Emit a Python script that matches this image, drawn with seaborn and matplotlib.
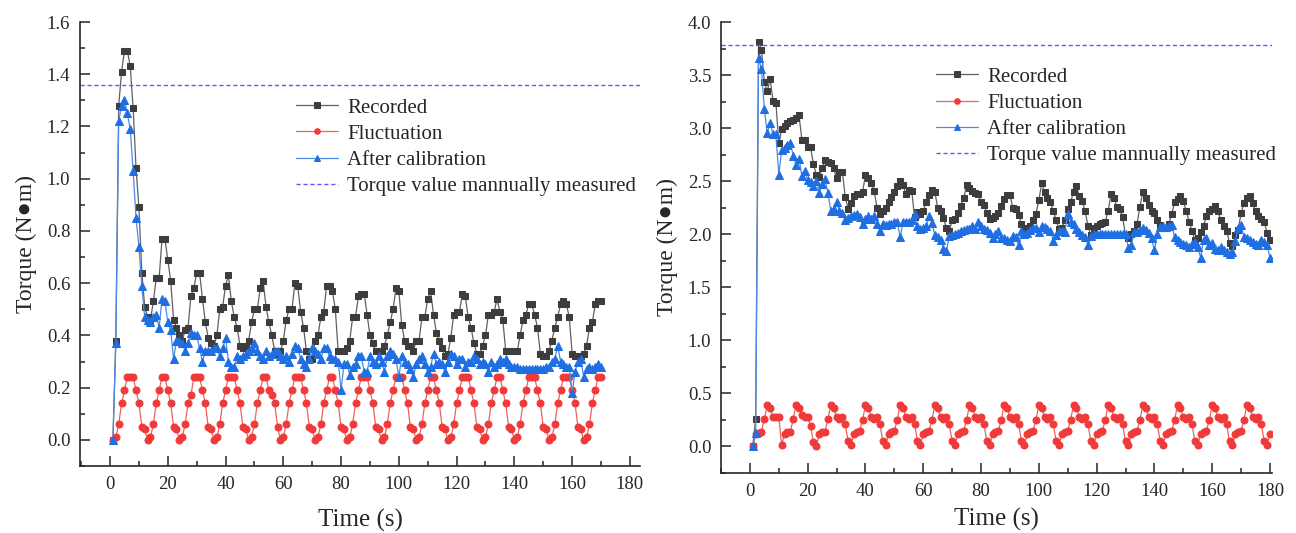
import numpy as np
import matplotlib
matplotlib.use("Agg")
import matplotlib.pyplot as plt
from matplotlib.ticker import MultipleLocator, FormatStrFormatter
import seaborn as sns

# ---- data: left test (1 sample per second) ----
left_time = np.arange(1, 171)
left_recorded = [
    0.00, 0.38, 1.28, 1.41, 1.49, 1.49, 1.43, 1.27, 1.04, 0.89,
    0.64, 0.51, 0.47, 0.46, 0.53, 0.62, 0.62, 0.77, 0.77, 0.69,
    0.61, 0.46, 0.43, 0.40, 0.38, 0.42, 0.43, 0.55, 0.58, 0.64,
    0.64, 0.54, 0.45, 0.39, 0.37, 0.36, 0.40, 0.50, 0.51, 0.59,
    0.63, 0.53, 0.47, 0.43, 0.36, 0.35, 0.36, 0.38, 0.45, 0.50,
    0.50, 0.58, 0.61, 0.51, 0.45, 0.40, 0.34, 0.33, 0.34, 0.38,
    0.46, 0.50, 0.50, 0.60, 0.59, 0.49, 0.43, 0.34, 0.31, 0.31,
    0.38, 0.40, 0.47, 0.49, 0.59, 0.59, 0.57, 0.50, 0.34, 0.34,
    0.34, 0.35, 0.38, 0.47, 0.47, 0.55, 0.56, 0.56, 0.48, 0.40,
    0.37, 0.34, 0.34, 0.34, 0.36, 0.40, 0.45, 0.50, 0.58, 0.57,
    0.44, 0.38, 0.36, 0.36, 0.34, 0.38, 0.38, 0.47, 0.47, 0.54,
    0.57, 0.48, 0.41, 0.38, 0.35, 0.32, 0.33, 0.39, 0.48, 0.49,
    0.49, 0.56, 0.55, 0.47, 0.43, 0.37, 0.33, 0.33, 0.36, 0.40,
    0.48, 0.48, 0.49, 0.54, 0.49, 0.46, 0.34, 0.34, 0.34, 0.34,
    0.34, 0.40, 0.46, 0.48, 0.52, 0.52, 0.48, 0.43, 0.33, 0.32,
    0.32, 0.34, 0.38, 0.43, 0.47, 0.52, 0.53, 0.52, 0.47, 0.33,
    0.32, 0.32, 0.32, 0.33, 0.36, 0.43, 0.45, 0.52, 0.53, 0.53,
]
left_fluct = [
    0.00, 0.01, 0.06, 0.14, 0.19,
    0.24, 0.24, 0.24, 0.19, 0.14, 0.05, 0.04, 0.00, 0.01, 0.06, 0.14, 0.19,
    0.24, 0.24, 0.19, 0.14, 0.05, 0.04, 0.00, 0.01, 0.06, 0.14, 0.17,
    0.24, 0.24, 0.24, 0.19, 0.14, 0.05, 0.04, 0.00, 0.01, 0.06, 0.14, 0.19,
    0.24, 0.24, 0.24, 0.19, 0.14, 0.05, 0.04, 0.00, 0.01, 0.06, 0.14, 0.19,
    0.24, 0.24, 0.19, 0.17, 0.14, 0.05, 0.00, 0.01, 0.06, 0.14, 0.19,
    0.24, 0.24, 0.24, 0.19, 0.14, 0.05, 0.04, 0.00, 0.01, 0.06, 0.14, 0.19,
    0.24, 0.24, 0.19, 0.14, 0.05, 0.04, 0.00, 0.01, 0.06, 0.14, 0.19,
    0.24, 0.24, 0.24, 0.19, 0.14, 0.05, 0.04, 0.00, 0.01, 0.06, 0.14, 0.19,
    0.24, 0.24, 0.24, 0.19, 0.14, 0.05, 0.04, 0.00, 0.01, 0.06, 0.14, 0.19,
    0.24, 0.24, 0.19, 0.14, 0.05, 0.04, 0.00, 0.01, 0.06, 0.14, 0.19,
    0.24, 0.24, 0.24, 0.19, 0.14, 0.05, 0.04, 0.00, 0.01, 0.06, 0.14, 0.19,
    0.24, 0.24, 0.19, 0.14, 0.05, 0.04, 0.00, 0.01, 0.06, 0.14, 0.19,
    0.24, 0.24, 0.24, 0.19, 0.14, 0.05, 0.04, 0.00, 0.01, 0.06, 0.14, 0.19,
    0.24, 0.24, 0.24, 0.19, 0.14, 0.05, 0.04, 0.00, 0.01, 0.06, 0.14, 0.19,
    0.24, 0.24,
]
left_calibrated = [
    0.00, 0.37, 1.22, 1.28, 1.30, 1.25, 1.19, 1.03, 0.85, 0.74,
    0.59, 0.47, 0.46, 0.45, 0.47, 0.48, 0.43, 0.54, 0.53, 0.45,
    0.42, 0.31, 0.38, 0.38, 0.37, 0.34, 0.37, 0.41, 0.40, 0.40,
    0.35, 0.30, 0.34, 0.34, 0.34, 0.35, 0.35, 0.32, 0.35, 0.39,
    0.30, 0.28, 0.28, 0.32, 0.31, 0.32, 0.33, 0.34, 0.35, 0.37,
    0.34, 0.32, 0.31, 0.34, 0.32, 0.33, 0.34, 0.34, 0.32, 0.31,
    0.32, 0.30, 0.33, 0.36, 0.35, 0.31, 0.29, 0.28, 0.31, 0.35,
    0.34, 0.33, 0.31, 0.35, 0.35, 0.32, 0.31, 0.31, 0.30, 0.19,
    0.29, 0.29, 0.25, 0.28, 0.29, 0.32, 0.32, 0.26, 0.26, 0.32,
    0.30, 0.29, 0.32, 0.30, 0.26, 0.32, 0.34, 0.33, 0.31, 0.24,
    0.32, 0.30, 0.29, 0.27, 0.24, 0.29, 0.31, 0.32, 0.29, 0.26,
    0.28, 0.33, 0.29, 0.30, 0.29, 0.26, 0.30, 0.33, 0.32, 0.29,
    0.31, 0.31, 0.28, 0.30, 0.30, 0.32, 0.31, 0.29, 0.30, 0.29,
    0.26, 0.30, 0.28, 0.29, 0.31, 0.30, 0.31, 0.29, 0.28, 0.28,
    0.28, 0.27, 0.27, 0.27, 0.27, 0.27, 0.27, 0.27, 0.27, 0.27,
    0.28, 0.28, 0.30, 0.31, 0.36, 0.30, 0.29, 0.28, 0.28, 0.18,
    0.26, 0.30, 0.31, 0.24, 0.27, 0.28, 0.27, 0.28, 0.29, 0.28,
]
left_manual = 1.36

# ---- data: right test ----
right_time = np.arange(1, 181)
right_recorded = [
    0.00, 0.26, 3.81, 3.74, 3.43, 3.35, 3.46, 3.26, 3.24, 2.86,
    2.99, 3.02, 3.05, 3.07, 3.08, 3.10, 3.12, 2.89, 2.89, 2.82,
    2.82, 2.66, 2.56, 2.54, 2.62, 2.70, 2.68, 2.67, 2.62, 2.53,
    2.59, 2.59, 2.35, 2.24, 2.29, 2.36, 2.38, 2.38, 2.40, 2.56,
    2.53, 2.48, 2.41, 2.25, 2.19, 2.22, 2.25, 2.30, 2.35, 2.40,
    2.45, 2.50, 2.46, 2.38, 2.42, 2.41, 2.16, 2.21, 2.19, 2.22,
    2.30, 2.37, 2.42, 2.40, 2.25, 2.22, 2.15, 2.06, 2.03, 2.13,
    2.14, 2.20, 2.27, 2.34, 2.46, 2.44, 2.41, 2.39, 2.38, 2.30,
    2.28, 2.20, 2.14, 2.15, 2.17, 2.20, 2.27, 2.33, 2.37, 2.37,
    2.25, 2.24, 2.18, 2.10, 2.06, 2.06, 2.08, 2.13, 2.19, 2.32,
    2.48, 2.40, 2.34, 2.30, 2.22, 2.13, 2.05, 2.06, 2.13, 2.24,
    2.30, 2.40, 2.45, 2.36, 2.31, 2.22, 2.08, 1.99, 2.06, 2.08,
    2.10, 2.11, 2.12, 2.22, 2.38, 2.34, 2.26, 2.24, 2.16, 1.99,
    1.96, 2.00, 2.03, 2.10, 2.26, 2.40, 2.34, 2.28, 2.22, 2.20,
    2.13, 2.09, 2.06, 2.06, 2.10, 2.19, 2.30, 2.33, 2.36, 2.31,
    2.22, 2.12, 2.03, 1.95, 1.96, 2.02, 2.08, 2.17, 2.22, 2.24,
    2.27, 2.22, 2.13, 2.08, 2.03, 1.92, 1.89, 1.99, 2.04, 2.20,
    2.29, 2.34, 2.36, 2.29, 2.22, 2.17, 2.14, 2.12, 2.01, 1.95,
]
right_fluct = [
    0.00, 0.12, 0.13, 0.14, 0.26, 0.39, 0.36, 0.28, 0.28, 0.28,
    0.01, 0.12, 0.14, 0.14, 0.26, 0.39, 0.36, 0.30, 0.28, 0.28,
    0.19, 0.04, 0.00, 0.12, 0.14, 0.14, 0.26,
    0.39, 0.36, 0.28, 0.26, 0.28, 0.21, 0.05, 0.01, 0.12, 0.14, 0.15, 0.25,
    0.39, 0.36, 0.28, 0.26, 0.28, 0.21, 0.05, 0.01, 0.12, 0.14, 0.15, 0.25,
    0.39, 0.36, 0.28, 0.26, 0.28, 0.21, 0.05, 0.01, 0.12, 0.14, 0.15, 0.25,
    0.39, 0.36, 0.28, 0.26, 0.28, 0.21, 0.05, 0.01, 0.12, 0.14, 0.15, 0.25,
    0.39, 0.36, 0.28, 0.26, 0.28, 0.21, 0.05, 0.01, 0.12, 0.14, 0.15, 0.25,
    0.39, 0.36, 0.28, 0.26, 0.28, 0.21, 0.05, 0.01, 0.12, 0.14, 0.15, 0.25,
    0.39, 0.36, 0.28, 0.26, 0.28, 0.21, 0.05, 0.01, 0.12, 0.14, 0.15, 0.25,
    0.39, 0.36, 0.28, 0.26, 0.28, 0.21, 0.05, 0.01, 0.12, 0.14, 0.15, 0.25,
    0.39, 0.36, 0.28, 0.26, 0.28, 0.21, 0.05, 0.01, 0.12, 0.14, 0.15, 0.25,
    0.39, 0.36, 0.28, 0.26, 0.28, 0.21, 0.05, 0.01, 0.12, 0.14, 0.15, 0.25,
    0.39, 0.36, 0.28, 0.26, 0.28, 0.21, 0.05, 0.01, 0.12, 0.14, 0.15, 0.25,
    0.39, 0.36, 0.28, 0.26, 0.28, 0.21, 0.05, 0.01, 0.12, 0.14, 0.15, 0.25,
    0.39, 0.36, 0.28, 0.26, 0.28, 0.21, 0.05, 0.01, 0.12,
]
right_calibrated = [
    0.00, 0.13, 3.66, 3.56, 3.18, 2.95, 3.05, 2.94, 2.94, 2.56,
    2.79, 2.81, 2.84, 2.86, 2.74, 2.65, 2.71, 2.55, 2.60, 2.51,
    2.49, 2.45, 2.50, 2.39, 2.47, 2.52, 2.39, 2.22, 2.24, 2.30,
    2.22, 2.20, 2.13, 2.15, 2.17, 2.18, 2.19, 2.16, 2.10, 2.14,
    2.17, 2.14, 2.17, 2.10, 2.03, 2.10, 2.09, 2.10, 2.10, 2.12,
    2.12, 1.97, 2.12, 2.12, 2.12, 2.13, 2.19, 2.08, 2.05, 2.06,
    2.08, 2.17, 2.11, 1.99, 1.97, 1.95, 1.86, 1.84, 1.98, 1.99,
    2.00, 2.01, 2.03, 2.04, 2.05, 2.05, 2.08, 2.05, 2.12, 2.08,
    2.05, 2.04, 2.01, 1.96, 2.00, 2.03, 1.96, 1.96, 1.95, 1.94,
    1.98, 1.97, 1.90, 2.03, 2.00, 2.01, 2.04, 2.06, 2.06, 2.02,
    2.08, 2.07, 2.05, 2.03, 1.94, 1.99, 2.03, 2.03, 2.02, 2.19,
    2.12, 2.10, 2.05, 2.02, 1.99, 1.97, 1.90, 1.98, 2.00, 2.00,
    2.00, 2.00, 2.00, 2.00, 2.00, 2.00, 2.00, 2.00, 2.00, 2.00,
    1.87, 1.90, 2.02, 2.02, 2.04, 2.06, 2.04, 2.01, 1.96, 1.85,
    2.00, 2.07, 2.08, 2.07, 2.08, 2.09, 1.97, 1.95, 1.93, 1.91,
    1.90, 1.88, 1.91, 1.93, 1.88, 1.78, 1.95, 1.96, 1.90, 1.92,
    1.86, 1.85, 1.88, 1.85, 1.83, 1.81, 1.83, 1.94, 2.06, 2.09,
    1.97, 1.96, 1.95, 1.93, 1.91, 1.90, 1.95, 1.93, 1.90, 1.78,
]
right_manual = 3.78

labels = ["Recorded", "Fluctuation", "After calibration",
          "Torque value mannually measured"]

sns.set_style("ticks")
plt.rcParams["font.family"] = ["Liberation Serif", "DejaVu Serif"]

fig = plt.figure(figsize=(12.96, 5.33), dpi=100)
# axes placed in figure fractions to match the reference layout
ax1 = fig.add_axes([80 / 1296, 67 / 533, 560 / 1296, 444 / 533])
ax2 = fig.add_axes([721 / 1296, 60 / 533, 551 / 1296, 451 / 533])

grey, red, blue, purple = "#3d3d3d", "#f03a3a", "#1f6fe3", "#5a5aff"


def draw(ax, t, rec, flu, cal, manual, xpad):
    sns.lineplot(x=t, y=rec, ax=ax, color="#606060", lw=0.9, marker="s",
                 markersize=5, markerfacecolor=grey, markeredgecolor=grey,
                 label=labels[0])
    sns.lineplot(x=t, y=flu, ax=ax, color="#f06060", lw=0.9, marker="o",
                 markersize=5, markerfacecolor=red, markeredgecolor=red,
                 label=labels[1])
    sns.lineplot(x=t, y=cal, ax=ax, color="#4a8ae8", lw=0.9, marker="^",
                 markersize=5.5, markerfacecolor=blue, markeredgecolor=blue,
                 label=labels[2])
    ax.axhline(manual, color=purple, lw=1.0, ls=(0, (3, 2)), label=labels[3])
    ax.set_xlabel("Time (s)", fontsize=18, labelpad=xpad)
    ax.set_ylabel("Torque (N\u25cfm)", fontsize=17, labelpad=7)
    ax.xaxis.set_major_locator(MultipleLocator(20))
    ax.xaxis.set_minor_locator(MultipleLocator(10))
    ax.yaxis.set_major_formatter(FormatStrFormatter("%.1f"))
    ax.tick_params(which="both", direction="in", labelsize=13.5, width=1.1)
    ax.tick_params(which="major", length=7, pad=7)
    ax.tick_params(which="minor", length=3.5)
    for s in ("top", "right"):
        ax.spines[s].set_visible(False)
    for s in ("left", "bottom"):
        ax.spines[s].set_linewidth(1.2)


def add_legend(ax, x, y):
    ax.legend(loc="upper left", bbox_to_anchor=(x, y), frameon=False,
              fontsize=15, handlelength=2.0, labelspacing=0.32, numpoints=1,
              handletextpad=0.45, borderaxespad=0, borderpad=0,
              markerscale=0.8)


draw(ax1, left_time, left_recorded, left_fluct, left_calibrated, left_manual, 12)
ax1.set_xlim(-10.4, 183.5)
ax1.set_ylim(-0.1, 1.6)
ax1.yaxis.set_major_locator(MultipleLocator(0.2))
ax1.yaxis.set_minor_locator(MultipleLocator(0.1))
add_legend(ax1, 0.386, 0.829)

draw(ax2, right_time, right_recorded, right_fluct, right_calibrated, right_manual, 6)
ax2.set_xlim(-10.0, 180.7)
ax2.set_ylim(-0.25, 4.0)
ax2.yaxis.set_major_locator(MultipleLocator(0.5))
ax2.yaxis.set_minor_locator(MultipleLocator(0.25))
add_legend(ax2, 0.39, 0.90)

fig.savefig("out.png", dpi=100)
